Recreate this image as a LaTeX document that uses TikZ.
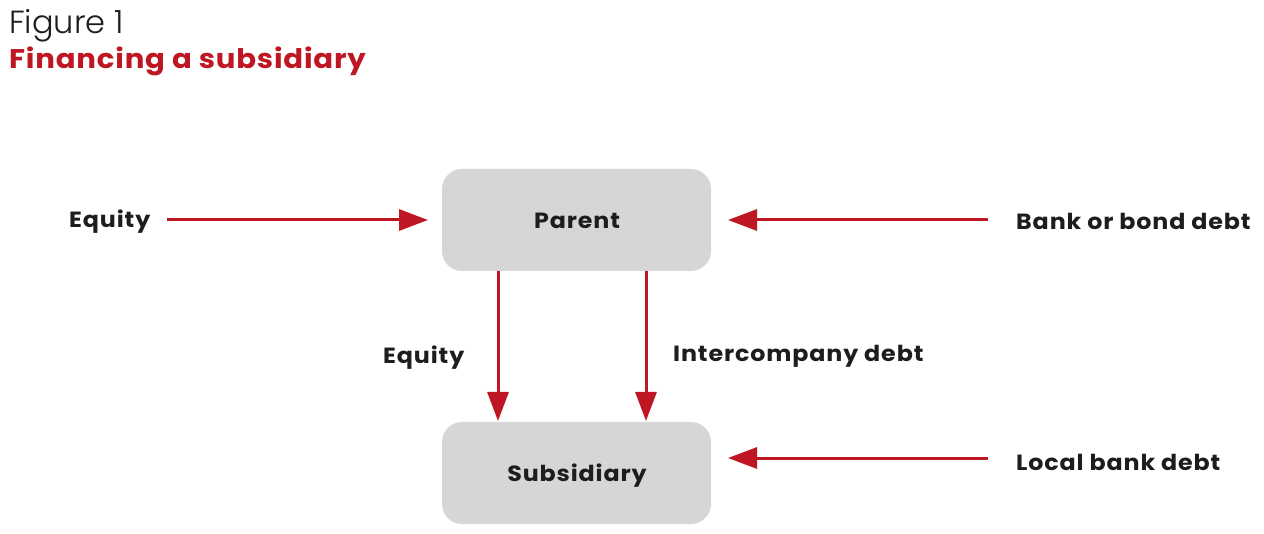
\documentclass[tikz,border=0pt]{standalone}
\usepackage{fontspec}
\setmainfont{Poppins}
\newfontfamily\lightfont{Poppins Light}
\newfontfamily\labfont{Poppins}[FakeStretch=1.08,LetterSpace=4]
\newfontfamily\titlefont{Poppins}[FakeStretch=1.08,LetterSpace=3]
\usetikzlibrary{arrows.meta}
\definecolor{fred}{HTML}{BE1622}
\definecolor{boxgrey}{HTML}{D5D6D8}
\definecolor{txt}{HTML}{1D1D1B}
\begin{document}
\begin{tikzpicture}[x=1pt,y=-1pt,
  entity/.style={fill=boxgrey,rounded corners=20pt,minimum width=269pt,minimum height=102pt,inner sep=0pt},
  lbl/.style={anchor=base west,inner sep=0pt,text=txt,font=\fontsize{22}{24}\labfont\bfseries},
  clbl/.style={anchor=base,inner sep=0pt,text=txt,font=\fontsize{22}{24}\labfont\bfseries},
  flow/.style={draw=fred,line width=3pt,-{Triangle[length=29pt,width=21pt]}}]
\useasboundingbox (0,0) rectangle (1264,534);
\node[anchor=base west,inner sep=0pt,text=txt,font=\fontsize{32}{36}\selectfont\lightfont] (fig) at (9,34) {Figure 1};
\node[anchor=base west,inner sep=0pt,text=fred,font=\fontsize{27}{30}\titlefont\bfseries] (title) at (9,69) {Financing a subsidiary};
\node[entity] (parent) at (576.5,220) {};
\node[clbl] (ptext) at (577,229) {Parent};
\node[entity] (sub) at (576.5,473) {};
\node[clbl] (stext) at (577,481) {Subsidiary};
\node[lbl] (eq1) at (69,228) {Equity};
\node[lbl] (bank) at (1016,230) {Bank or bond debt};
\node[lbl] (eq2) at (383,364) {Equity};
\node[lbl] (ic) at (673,362) {Intercompany debt};
\node[lbl] (local) at (1016,471) {Local bank debt};
\coordinate (a1s) at (167,220); \coordinate (a1e) at (428,220);
\coordinate (a2s) at (988,220); \coordinate (a2e) at (728,220);
\coordinate (a3s) at (498,271); \coordinate (a3e) at (498,421);
\coordinate (a4s) at (646,271); \coordinate (a4e) at (646,421);
\coordinate (a5s) at (988,458); \coordinate (a5e) at (728,458);
\draw[flow] (a1s) -- (a1e);
\draw[flow] (a2s) -- (a2e);
\draw[flow] (a3s) -- (a3e);
\draw[flow] (a4s) -- (a4e);
\draw[flow] (a5s) -- (a5e);
\end{tikzpicture}
\end{document}
